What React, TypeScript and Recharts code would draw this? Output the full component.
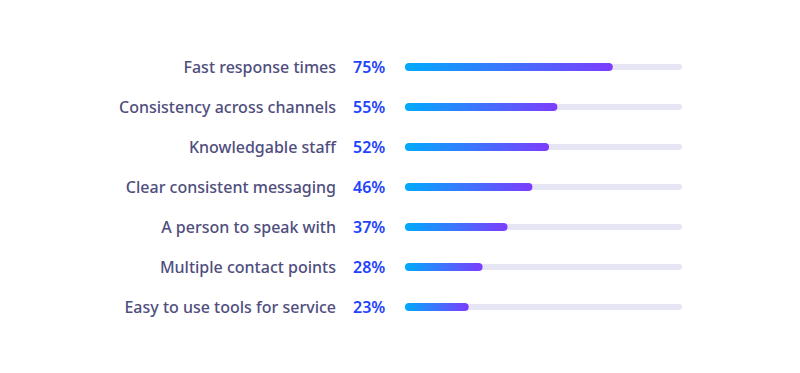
import { BarChart, Bar, XAxis, YAxis } from "recharts";

const categories = [
  "Fast response times",
  "Consistency across channels",
  "Knowledgable staff",
  "Clear consistent messaging",
  "A person to speak with",
  "Multiple contact points",
  "Easy to use tools for service",
];
const values = [75, 55, 52, 46, 37, 28, 23];

const data = categories.map((name, i) => ({ name, value: values[i] }));

const FONT = "'Noto Sans', sans-serif";

function Tick(props: any) {
  const { x, y, payload, index } = props;
  return (
    <g>
      <text
        x={x - 61}
        y={y}
        dy={6}
        textAnchor="end"
        fontFamily={FONT}
        fontSize={16}
        fontWeight={500}
        fill="#4f4e7e"
      >
        {payload.value}
      </text>
      <text
        x={x - 44}
        y={y}
        dy={6}
        textAnchor="start"
        fontFamily={FONT}
        fontSize={16}
        fontWeight={600}
        fill="#1f43ff"
      >
        {values[index]}%
      </text>
    </g>
  );
}

function Track(props: any) {
  const { x, y, width, height } = props;
  const h = 6;
  return (
    <rect
      x={x}
      y={y + height / 2 - h / 2}
      width={width}
      height={h}
      rx={3}
      fill="#e6e5f3"
    />
  );
}

function Pill(props: any) {
  const { x, y, width, height } = props;
  const h = 8;
  return (
    <rect
      x={x}
      y={y + height / 2 - h / 2}
      width={width}
      height={h}
      rx={4}
      fill="url(#barGrad)"
    />
  );
}

export default function App() {
  return (
    <div style={{ width: 792, height: 365 }}>
      <BarChart
        width={792}
        height={365}
        data={data}
        layout="vertical"
        margin={{ top: 39, right: 118, bottom: 46, left: 0 }}
      >
        <defs>
          <linearGradient id="barGrad" x1="0" y1="0" x2="1" y2="0">
            <stop offset="0%" stopColor="#00aaff" />
            <stop offset="100%" stopColor="#7d3cff" />
          </linearGradient>
        </defs>
        <XAxis type="number" domain={[0, 100]} hide />
        <YAxis
          type="category"
          dataKey="name"
          width={397}
          axisLine={false}
          tickLine={false}
          tick={<Tick />}
          interval={0}
        />
        <Bar
          dataKey="value"
          isAnimationActive={false}
          background={<Track />}
          shape={<Pill />}
        />
      </BarChart>
    </div>
  );
}
